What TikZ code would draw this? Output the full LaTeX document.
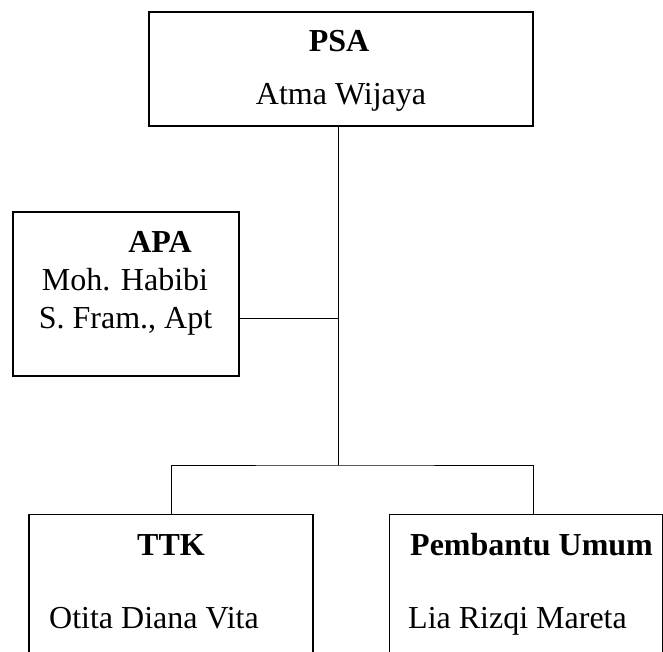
\documentclass[tikz,border=0pt]{standalone}
\usepackage{fontspec}
\setmainfont{Liberation Serif}
\usetikzlibrary{calc}

\begin{document}
\begin{tikzpicture}[x=1pt,y=-1pt]
      \tikzstyle{every node} = [font=\fontsize{32}{38}\selectfont, inner sep=0pt]
      \tikzstyle{box} = [draw, rectangle, line width=1.2pt]
      \tikzstyle{title} = [font=\fontsize{32}{38}\selectfont\bfseries]
      \tikzstyle{link} = [line width=1pt]
      \clip (0,0) rectangle (663,652);
      % Boxes
      \node[box, minimum width=384pt, minimum height=114pt](psa) at (341,69){};
      \node[box, minimum width=226pt, minimum height=164pt](apa) at (126,294){};
      \node[box, minimum width=284pt, minimum height=200pt, anchor=north](ttk) at (171,514){};
      \node[box, minimum width=273pt, minimum height=200pt, anchor=north west](umum) at (389,514){};
      % Texts
      \node[title, anchor=base](psaTitle) at (339,52){PSA};
      \node[anchor=base](psaName) at (341,105){Atma Wijaya};
      \node[title, anchor=base](apaTitle) at (160,252){APA};
      \node[anchor=base](apaName) at (125,290){Moh. Habibi};
      \node[anchor=base](apaDegree) at (125.5,328){S. Fram., Apt};
      \node[title, anchor=base](ttkTitle) at (171,555){TTK};
      \node[anchor=base west](ttkName) at (49,628){Otita Diana Vita};
      \node[title, anchor=base west](umumTitle) at (410,555){Pembantu Umum};
      \node[anchor=base west](umumName) at (408,628){Lia Rizqi Mareta};
      % Connections
      \coordinate (trunk) at (338,465);
      \coordinate (jRight) at (533,465);
      \coordinate (apaOut) at ($(apa.east)+(0,24)$);
      \draw[link]
      (trunk |- psa.south) -- (trunk);
      \draw[link]
      (apaOut) -- (apaOut -| trunk);
      \draw[link]
      (ttk.north) |- (trunk) -- (jRight);
      \draw[link]
      (jRight) -- (jRight |- umum.north);
\end{tikzpicture}
\end{document}
